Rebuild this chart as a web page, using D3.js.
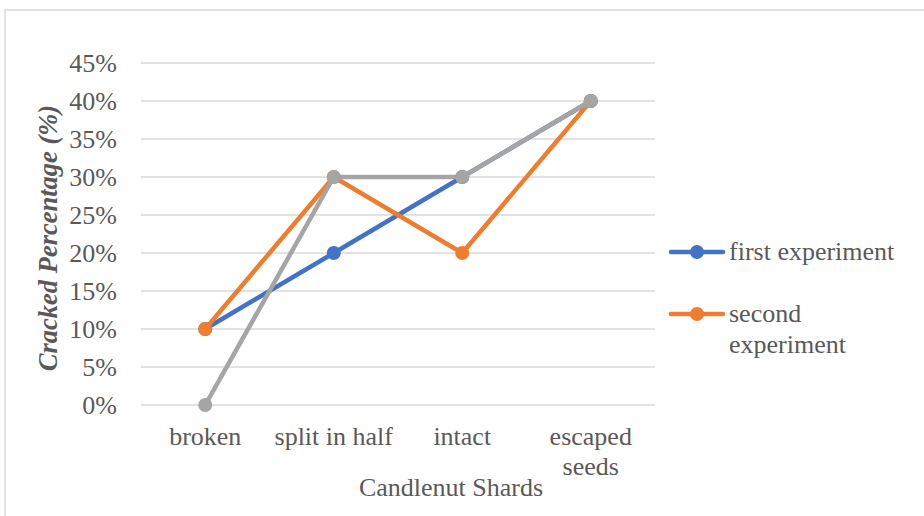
<!DOCTYPE html>
<html><head><meta charset="utf-8">
<script src="https://cdn.jsdelivr.net/npm/d3@7"></script>
<style>body{margin:0;background:#fff;}svg{display:block;}</style>
</head><body>
<script>
const categories = ["broken", "split in half", "intact", "escaped seeds"];
const firstExperiment = [0.10, 0.20, 0.30, 0.40];
const secondExperiment = [0.10, 0.30, 0.20, 0.40];
const thirdExperiment = [0.00, 0.30, 0.30, 0.40];
const seriesNames = ["first experiment", "second experiment", "third experiment"];
const seriesColors = ["#4472C4", "#ED7D31", "#A5A5A5"];
const yTicks = [0, 0.05, 0.10, 0.15, 0.20, 0.25, 0.30, 0.35, 0.40, 0.45];

const W = 924, H = 516;
const svg = d3.select("body").append("svg").attr("width", W).attr("height", H);
const font = "'Liberation Serif','Times New Roman',serif";
const textColor = "#595959";
const fs = 26;

svg.append("rect").attr("x", 5).attr("y", 10).attr("width", 940).attr("height", 540)
  .attr("fill", "#fff").attr("stroke", "#d9d9d9").attr("stroke-width", 1.5);

const x = d3.scaleBand().domain(categories).range([141, 655]);
const y = d3.scaleLinear().domain([0, 0.45]).range([405, 63]);

// gridlines
svg.append("g").selectAll("line").data(yTicks).join("line")
  .attr("x1", 141).attr("x2", 655)
  .attr("y1", d => y(d)).attr("y2", d => y(d))
  .attr("stroke", "#d9d9d9").attr("stroke-width", 1.3);

// y axis
const yAxis = svg.append("g").attr("transform", "translate(141,0)")
  .call(d3.axisLeft(y).tickValues(yTicks).tickFormat(d3.format(".0%")).tickSize(0).tickPadding(24));
yAxis.select(".domain").remove();
yAxis.selectAll("text").attr("font-family", font).attr("font-size", fs).attr("fill", textColor);

// x axis labels
const xAxis = svg.append("g").attr("transform", "translate(0,405)")
  .call(d3.axisBottom(x).tickSize(0).tickPadding(0));
xAxis.select(".domain").remove();
xAxis.selectAll("text").text(null).attr("font-family", font).attr("font-size", fs).attr("fill", textColor)
  .attr("dy", null)
  .each(function(d) {
    const t = d3.select(this);
    const words = d === "escaped seeds" ? ["escaped", "seeds"] : [d];
    words.forEach((w, i) => t.append("tspan").attr("x", 0).attr("y", 40 + i * 30).text(w));
  });

// axis titles
svg.append("text").attr("x", 451).attr("y", 496).attr("text-anchor", "middle")
  .attr("font-family", font).attr("font-size", fs).attr("fill", textColor).text("Candlenut Shards");
svg.append("text").attr("transform", "translate(57,238) rotate(-90)").attr("text-anchor", "middle")
  .attr("font-family", font).attr("font-size", 26.5).attr("font-weight", "bold").attr("font-style", "italic")
  .attr("fill", textColor).text("Cracked Percentage (%)");

// lines
const allSeries = [firstExperiment, secondExperiment, thirdExperiment];
const line = d3.line().x((d, i) => x(categories[i]) + x.bandwidth() / 2).y(d => y(d));
allSeries.forEach((vals, s) => {
  const g = svg.append("g");
  g.append("path").datum(vals).attr("d", line).attr("fill", "none")
    .attr("stroke", seriesColors[s]).attr("stroke-width", 4.5).attr("stroke-linejoin", "round").attr("stroke-linecap", "round");
  g.selectAll("circle").data(vals).join("circle")
    .attr("cx", (d, i) => x(categories[i]) + x.bandwidth() / 2).attr("cy", d => y(d))
    .attr("r", 7).attr("fill", seriesColors[s]);
});

// legend (only first two visible)
const legendItems = [
  {i: 0, y: 252, lines: ["first experiment"]},
  {i: 1, y: 314, lines: ["second", "experiment"]}
];
legendItems.forEach(it => {
  const g = svg.append("g");
  g.append("line").attr("x1", 671).attr("x2", 723).attr("y1", it.y).attr("y2", it.y)
    .attr("stroke", seriesColors[it.i]).attr("stroke-width", 4.5).attr("stroke-linecap", "round");
  g.append("circle").attr("cx", 697).attr("cy", it.y).attr("r", 7).attr("fill", seriesColors[it.i]);
  const t = g.append("text").attr("font-family", font).attr("font-size", fs).attr("fill", textColor);
  it.lines.forEach((w, k) => t.append("tspan").attr("x", 729).attr("y", it.y + 8 + k * 31).text(w));
});
</script>
</body></html>
